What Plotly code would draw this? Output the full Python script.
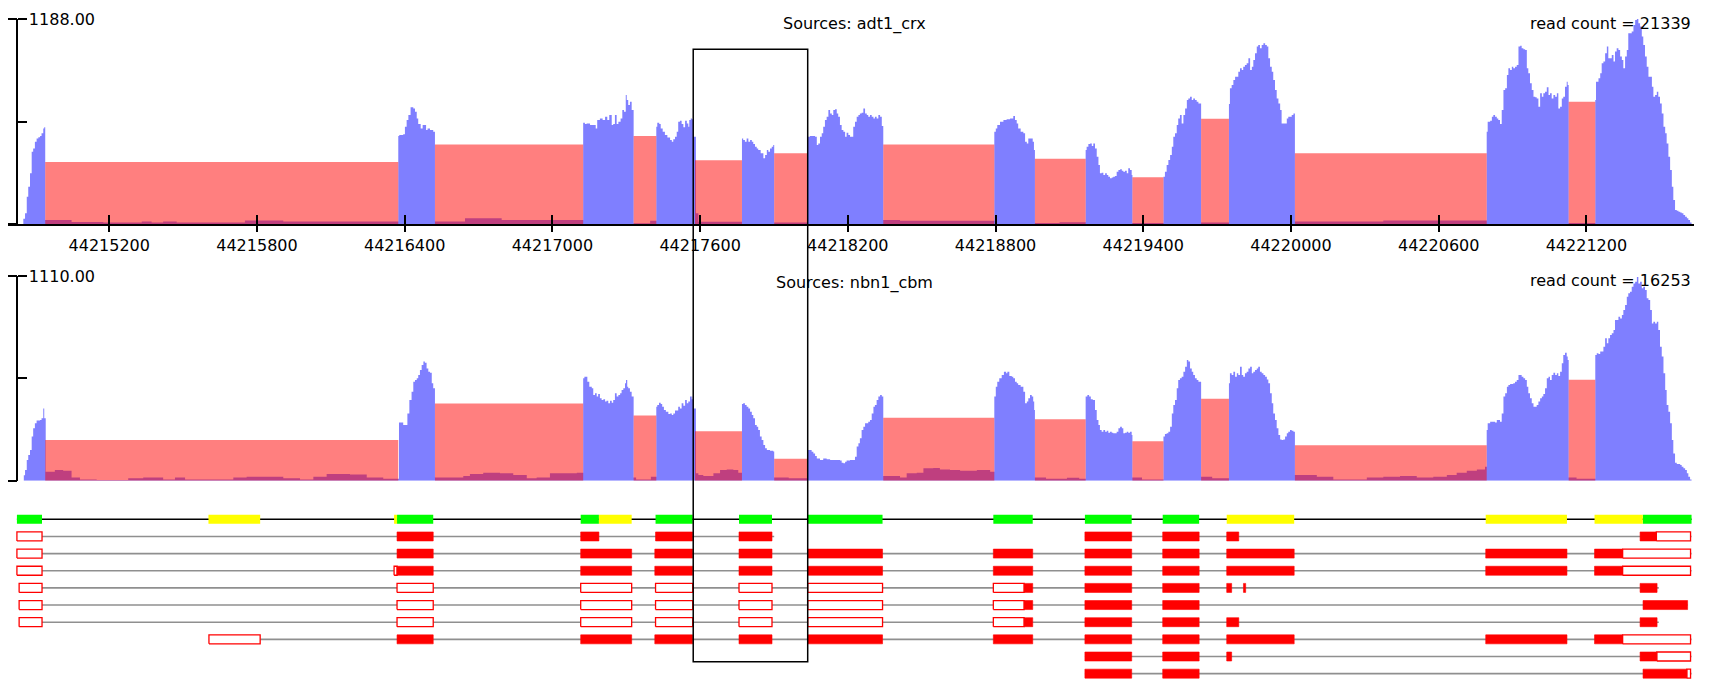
import plotly.graph_objects as go

# ---------------------------------------------------------------- axis setup
TICK_POSITIONS = [44215200, 44215800, 44216400, 44217000, 44217600, 44218200,
                  44218800, 44219400, 44220000, 44220600, 44221200]
VIEW_START, VIEW_END = 44214790, 44221637

SAMPLE_NAMES = ["adt1_crx", "nbn1_cbm"]
READ_COUNTS = [21339, 16253]
AXIS_MAX = [1188.00, 1110.00]

# ---------------------------------------------------------------- per-base read depth (position, depth)
ADT1_COVERAGE = [
    (44214851, 30), (44214858, 62), (44214865, 158), (44214871, 216), (44214878, 294), (44214885, 419),
    (44214891, 438), (44214898, 477), (44214905, 496), (44214912, 503), (44214919, 510), (44214925, 526),
    (44214932, 554), (44214936, 560),
    (44214940, 23), (44215047, 12), (44215176, 8), (44215332, 15), (44215372, 8), (44215419, 15),
    (44215474, 8), (44215751, 21), (44215907, 15), (44216083, 14),
    (44216374, 510), (44216378, 516), (44216394, 520), (44216401, 564), (44216408, 603), (44216415, 632),
    (44216424, 676), (44216435, 670), (44216442, 651), (44216449, 612), (44216455, 580), (44216465, 554),
    (44216473, 574), (44216487, 545), (44216493, 554), (44216503, 545), (44216516, 535),
    (44216523, 15), (44216645, 33), (44216794, 23),
    (44217125, 587), (44217132, 580), (44217139, 583), (44217153, 574), (44217176, 554), (44217182, 603),
    (44217193, 612), (44217204, 603), (44217214, 622), (44217223, 603), (44217231, 632), (44217241, 574),
    (44217247, 580), (44217254, 632), (44217261, 580), (44217268, 593), (44217277, 612), (44217284, 661),
    (44217291, 651), (44217298, 748), (44217302, 719), (44217308, 690), (44217315, 709), (44217322, 661),
    (44217330, 4), (44217397, 19),
    (44217422, 564), (44217426, 587), (44217434, 580), (44217440, 554), (44217448, 535), (44217457, 516),
    (44217467, 502), (44217478, 487), (44217485, 477), (44217491, 491), (44217498, 506), (44217505, 535),
    (44217511, 593), (44217518, 599), (44217525, 580), (44217532, 560), (44217539, 599), (44217546, 583),
    (44217552, 564), (44217556, 603), (44217562, 612), (44217567, 607), (44217572, 506),
    (44217583, 62), (44217593, 13),
    (44217770, 496), (44217775, 487), (44217782, 477), (44217789, 496), (44217796, 477), (44217803, 487),
    (44217810, 477), (44217816, 464), (44217823, 448), (44217830, 438), (44217836, 429), (44217846, 410),
    (44217857, 381), (44217864, 400), (44217871, 429), (44217877, 419), (44217884, 438), (44217891, 448),
    (44217897, 458),
    (44217901, 8),
    (44218037, 506), (44218046, 510), (44218067, 506), (44218074, 458), (44218080, 467), (44218087, 506),
    (44218094, 526), (44218100, 564), (44218107, 603), (44218114, 622), (44218121, 661), (44218128, 641),
    (44218135, 632), (44218141, 661), (44218148, 665), (44218155, 641), (44218161, 622), (44218168, 574),
    (44218175, 545), (44218182, 535), (44218189, 506), (44218195, 529), (44218202, 516), (44218209, 506),
    (44218222, 564), (44218229, 593), (44218236, 622), (44218243, 632), (44218249, 641), (44218256, 645),
    (44218263, 670), (44218270, 641), (44218277, 632), (44218283, 622), (44218290, 632), (44218297, 622),
    (44218304, 612), (44218310, 622), (44218317, 612), (44218324, 632), (44218331, 622), (44218338, 568),
    (44218344, 23), (44218412, 19),
    (44218795, 535), (44218801, 554), (44218807, 574), (44218818, 593), (44218832, 603), (44218845, 607),
    (44218859, 612), (44218872, 626), (44218879, 603), (44218886, 583), (44218892, 554), (44218902, 535),
    (44218913, 526), (44218920, 477), (44218927, 467), (44218933, 496), (44218951, 477), (44218956, 429),
    (44218960, 6), (44219060, 10),
    (44219166, 429), (44219170, 448), (44219177, 464), (44219184, 467), (44219191, 452), (44219197, 467),
    (44219204, 438), (44219211, 390), (44219218, 342), (44219224, 294), (44219231, 297), (44219238, 284),
    (44219245, 294), (44219252, 284), (44219258, 274), (44219265, 265), (44219272, 270), (44219278, 274),
    (44219285, 278), (44219292, 303), (44219299, 313), (44219306, 317), (44219313, 309), (44219319, 303),
    (44219326, 309), (44219333, 294), (44219339, 323), (44219346, 313), (44219353, 284),
    (44219356, 6),
    (44219482, 274), (44219488, 303), (44219495, 342), (44219502, 371), (44219509, 400), (44219516, 448),
    (44219522, 506), (44219529, 526), (44219536, 574), (44219542, 612), (44219549, 632), (44219556, 583),
    (44219563, 632), (44219570, 670), (44219577, 719), (44219583, 728), (44219590, 738), (44219597, 719),
    (44219603, 728), (44219610, 719), (44219617, 709), (44219624, 699),
    (44219635, 8),
    (44219748, 695), (44219752, 786), (44219759, 805), (44219766, 835), (44219773, 854), (44219786, 883),
    (44219793, 902), (44219800, 892), (44219806, 912), (44219813, 921), (44219820, 931), (44219827, 960),
    (44219834, 892), (44219841, 912), (44219847, 950), (44219854, 989), (44219861, 1028), (44219867, 1037),
    (44219874, 1018), (44219881, 1037), (44219888, 1047), (44219895, 1037), (44219902, 1028), (44219908, 960),
    (44219915, 912), (44219922, 883), (44219928, 835), (44219935, 777), (44219942, 728), (44219949, 699),
    (44219956, 661), (44219962, 583), (44219983, 612), (44219989, 622), (44220003, 632), (44220010, 641),
    (44220016, 14), (44220375, 20),
    (44220795, 535), (44220799, 593), (44220809, 599), (44220816, 622), (44220822, 632), (44220829, 622),
    (44220836, 612), (44220842, 603), (44220849, 580), (44220856, 661), (44220863, 777), (44220870, 786),
    (44220877, 863), (44220883, 902), (44220890, 892), (44220897, 912), (44220903, 902), (44220910, 912),
    (44220917, 921), (44220924, 1028), (44220931, 1033), (44220937, 1018), (44220944, 1012), (44220951, 1008),
    (44220958, 902), (44220964, 873), (44220971, 815), (44220978, 777), (44220985, 738), (44220992, 734),
    (44220998, 728), (44221005, 680), (44221012, 757), (44221019, 738), (44221025, 757), (44221032, 767),
    (44221039, 792), (44221046, 748), (44221052, 757), (44221059, 728), (44221066, 748), (44221073, 738),
    (44221080, 757), (44221086, 670), (44221093, 680), (44221100, 728), (44221106, 738), (44221113, 796),
    (44221120, 825), (44221124, 805),
    (44221128, 6),
    (44221236, 719), (44221239, 825), (44221249, 844), (44221256, 873), (44221262, 931), (44221269, 941),
    (44221276, 989), (44221283, 1028), (44221289, 960), (44221303, 979), (44221310, 941), (44221316, 999),
    (44221323, 1018), (44221330, 1008), (44221337, 970), (44221344, 950), (44221350, 902), (44221357, 970),
    (44221364, 1008), (44221370, 1105), (44221384, 1115), (44221391, 1153), (44221398, 1182), (44221405, 1188),
    (44221411, 1163), (44221418, 1144), (44221425, 1086), (44221431, 1037), (44221438, 970), (44221445, 912),
    (44221452, 854), (44221466, 796), (44221472, 738), (44221479, 748), (44221486, 767), (44221492, 738),
    (44221499, 699), (44221506, 641), (44221513, 564), (44221520, 526), (44221526, 467), (44221533, 390),
    (44221540, 313), (44221547, 216), (44221553, 139), (44221560, 81), (44221567, 77), (44221574, 71),
    (44221581, 66), (44221587, 62), (44221594, 52), (44221601, 42), (44221608, 33), (44221614, 23),
    (44221621, 8), (44221627, 0),
]

NBN1_COVERAGE = [
    (44214853, 30), (44214858, 58), (44214865, 112), (44214871, 140), (44214878, 167), (44214885, 239),
    (44214891, 284), (44214898, 311), (44214905, 326), (44214919, 329), (44214925, 338), (44214932, 392),
    (44214936, 338),
    (44214942, 49), (44214979, 58), (44215013, 54), (44215047, 18), (44215081, 7), (44215149, 4),
    (44215277, 13), (44215338, 18), (44215419, 7), (44215467, 18), (44215508, 7), (44215704, 18),
    (44215758, 22), (44215907, 13), (44215975, 7), (44216029, 22), (44216083, 36), (44216178, 34),
    (44216246, 18), (44216313, 11),
    (44216377, 315), (44216394, 302), (44216411, 365), (44216419, 438), (44216428, 483), (44216435, 537),
    (44216442, 546), (44216449, 555), (44216455, 573), (44216462, 600), (44216469, 627), (44216476, 646),
    (44216482, 640), (44216489, 609), (44216496, 591), (44216503, 586), (44216510, 528), (44216516, 501),
    (44216523, 18), (44216638, 25), (44216665, 36), (44216719, 43), (44216787, 40), (44216841, 31),
    (44216896, 13), (44216936, 18), (44216990, 40), (44217099, 43),
    (44217125, 555), (44217130, 564), (44217142, 537), (44217150, 510), (44217160, 501), (44217166, 465),
    (44217173, 474), (44217180, 456), (44217186, 470), (44217193, 447), (44217200, 438), (44217207, 441),
    (44217214, 429), (44217220, 434), (44217227, 420), (44217234, 434), (44217241, 423), (44217247, 438),
    (44217254, 474), (44217261, 456), (44217268, 465), (44217275, 474), (44217281, 492), (44217288, 501),
    (44217295, 528), (44217299, 546), (44217304, 510), (44217308, 501), (44217315, 483), (44217322, 456),
    (44217330, 18), (44217340, 7), (44217400, 22),
    (44217422, 401), (44217426, 410), (44217433, 423), (44217440, 416), (44217446, 401), (44217453, 383),
    (44217461, 374), (44217471, 362), (44217478, 365), (44217485, 356), (44217491, 365), (44217498, 380),
    (44217511, 401), (44217518, 392), (44217525, 420), (44217532, 407), (44217539, 438), (44217546, 420),
    (44217552, 429), (44217559, 456), (44217566, 441), (44217570, 456), (44217572, 392),
    (44217583, 40), (44217593, 31), (44217613, 25), (44217654, 40), (44217681, 58), (44217708, 61),
    (44217735, 58), (44217755, 43),
    (44217770, 416), (44217775, 420), (44217782, 410), (44217789, 401), (44217796, 392), (44217803, 374),
    (44217810, 356), (44217816, 338), (44217823, 302), (44217830, 293), (44217836, 275), (44217843, 239),
    (44217850, 221), (44217857, 194), (44217864, 176), (44217871, 167), (44217884, 163), (44217897, 158),
    (44217901, 18), (44217960, 13),
    (44218037, 166), (44218053, 157), (44218060, 148), (44218067, 134), (44218074, 121), (44218087, 112),
    (44218100, 121), (44218114, 116), (44218128, 112), (44218168, 109), (44218175, 98), (44218182, 94),
    (44218189, 103), (44218195, 109), (44218209, 112), (44218229, 130), (44218236, 185), (44218243, 203),
    (44218249, 230), (44218256, 275), (44218263, 293), (44218270, 311), (44218283, 320), (44218290, 329),
    (44218297, 365), (44218304, 401), (44218310, 410), (44218317, 438), (44218324, 456), (44218331, 465),
    (44218338, 456),
    (44218344, 25), (44218412, 18), (44218439, 40), (44218480, 43), (44218507, 67), (44218547, 69),
    (44218574, 61), (44218615, 58), (44218656, 54), (44218724, 58), (44218778, 49),
    (44218795, 456), (44218801, 510), (44218807, 537), (44218815, 555), (44218825, 573), (44218834, 591),
    (44218843, 582), (44218848, 591), (44218856, 568), (44218866, 564), (44218872, 555), (44218879, 537),
    (44218886, 528), (44218892, 519), (44218902, 510), (44218913, 483), (44218920, 420), (44218927, 429),
    (44218933, 447), (44218940, 465), (44218947, 456), (44218953, 429), (44218957, 383),
    (44218960, 18), (44219005, 11), (44219090, 16), (44219140, 11),
    (44219166, 456), (44219173, 465), (44219180, 456), (44219187, 441), (44219195, 438), (44219204, 383),
    (44219211, 329), (44219218, 302), (44219224, 275), (44219231, 266), (44219238, 275), (44219245, 266),
    (44219252, 271), (44219258, 260), (44219265, 266), (44219272, 260), (44219278, 257), (44219292, 266),
    (44219299, 284), (44219306, 293), (44219313, 284), (44219319, 257), (44219326, 260), (44219333, 266),
    (44219339, 260), (44219346, 266), (44219353, 248),
    (44219356, 18), (44219395, 7),
    (44219482, 239), (44219488, 253), (44219495, 257), (44219502, 266), (44219509, 293), (44219516, 365),
    (44219522, 410), (44219529, 438), (44219536, 501), (44219542, 546), (44219549, 555), (44219556, 564),
    (44219563, 591), (44219570, 618), (44219577, 655), (44219583, 646), (44219590, 609), (44219597, 591),
    (44219603, 573), (44219610, 555), (44219617, 546), (44219624, 537),
    (44219635, 22), (44219680, 13),
    (44219748, 528), (44219752, 582), (44219759, 573), (44219766, 591), (44219773, 564), (44219780, 582),
    (44219786, 573), (44219793, 618), (44219800, 573), (44219806, 564), (44219813, 582), (44219820, 591),
    (44219827, 609), (44219834, 618), (44219841, 582), (44219847, 591), (44219854, 600), (44219861, 609),
    (44219867, 618), (44219874, 591), (44219881, 582), (44219888, 573), (44219895, 564), (44219902, 549),
    (44219908, 528), (44219915, 474), (44219922, 420), (44219928, 365), (44219935, 329), (44219942, 284),
    (44219949, 248), (44219956, 224), (44219962, 221), (44219969, 224), (44219976, 239), (44219983, 257),
    (44219989, 266), (44219996, 275), (44220003, 271), (44220010, 266),
    (44220016, 31), (44220105, 22), (44220172, 7), (44220308, 18), (44220375, 22), (44220443, 25),
    (44220511, 18), (44220578, 22), (44220633, 31), (44220673, 43), (44220714, 54), (44220755, 61),
    (44220788, 76),
    (44220795, 275), (44220799, 311), (44220809, 320), (44220829, 315), (44220836, 329), (44220849, 320),
    (44220856, 365), (44220863, 456), (44220870, 474), (44220877, 510), (44220883, 519), (44220890, 524),
    (44220903, 528), (44220910, 537), (44220917, 546), (44220924, 573), (44220937, 564), (44220944, 555),
    (44220951, 546), (44220958, 510), (44220964, 474), (44220971, 447), (44220978, 420), (44220985, 401),
    (44220998, 410), (44221005, 429), (44221012, 447), (44221019, 456), (44221025, 470), (44221032, 501),
    (44221039, 555), (44221046, 564), (44221052, 546), (44221059, 573), (44221066, 586), (44221073, 573),
    (44221080, 582), (44221086, 568), (44221093, 591), (44221100, 637), (44221106, 682), (44221113, 694),
    (44221120, 673), (44221124, 655),
    (44221128, 18), (44221160, 11),
    (44221236, 682), (44221242, 691), (44221249, 687), (44221256, 700), (44221269, 727), (44221276, 772),
    (44221283, 745), (44221289, 772), (44221296, 790), (44221303, 799), (44221310, 817), (44221316, 872),
    (44221330, 889), (44221337, 880), (44221344, 898), (44221350, 926), (44221357, 953), (44221364, 998),
    (44221370, 1016), (44221377, 1025), (44221384, 1052), (44221391, 1070), (44221398, 1079), (44221405, 1105),
    (44221411, 1070), (44221418, 1079), (44221425, 1043), (44221431, 1052), (44221438, 1034), (44221445, 989),
    (44221452, 980), (44221459, 926), (44221466, 853), (44221472, 862), (44221479, 853), (44221486, 862),
    (44221492, 817), (44221499, 727), (44221506, 673), (44221513, 582), (44221520, 492), (44221526, 410),
    (44221533, 374), (44221540, 311), (44221547, 221), (44221553, 148), (44221560, 98), (44221567, 91),
    (44221581, 85), (44221587, 76), (44221594, 67), (44221601, 58), (44221608, 40), (44221614, 22),
    (44221621, 7), (44221627, 0),
]

# ---------------------------------------------------------------- splice junctions (intron spans, read support)
JUNCTION_START = [44214940, 44216523, 44217330, 44217579, 44217901, 44218344,
                  44218960, 44219356, 44219635, 44220016, 44221128]
JUNCTION_END = [44216374, 44217125, 44217422, 44217770, 44218037, 44218795,
                44219166, 44219482, 44219748, 44220795, 44221236]
ADT1_JUNCTIONS = [359, 460, 510, 369, 410, 460, 378, 271, 610, 410, 709]
NBN1_JUNCTIONS = [221, 418, 353, 268, 119, 342, 333, 214, 445, 192, 548]

# region of interest marked across all tracks
HIGHLIGHT_START, HIGHLIGHT_END = 44217572, 44218037

# ---------------------------------------------------------------- gene models
# consensus exons: (start, end, kind) -- kind "const" = constitutive, "alt" = alternative
CONSENSUS_SPAN = (44214825, 44221627)
CONSENSUS_EXONS = [
    (44214825, 44214927, "const"), (44215603, 44215813, "alt"), (44216357, 44216369, "alt"),
    (44216369, 44216516, "const"), (44217115, 44217189, "const"), (44217189, 44217322, "alt"),
    (44217419, 44217570, "const"), (44217758, 44217892, "const"), (44218037, 44218341, "const"),
    (44218791, 44218951, "const"), (44219163, 44219353, "const"), (44219479, 44219627, "const"),
    (44219739, 44220013, "alt"), (44220791, 44221121, "alt"), (44221233, 44221429, "alt"),
    (44221429, 44221627, "const"),
]

# transcript spans: (row, start, end)
TRANSCRIPT_SPANS = [
    (1, 44214825, 44217901), (1, 44219163, 44221627),
    (2, 44214825, 44221627), (3, 44214825, 44221627),
    (4, 44214834, 44221494), (5, 44214834, 44221611), (6, 44214834, 44221494),
    (7, 44215605, 44221627), (8, 44219163, 44221627), (9, 44219163, 44221627),
]

# transcript exons: (row, start, end, coding)
TRANSCRIPT_EXONS = [
    (1, 44214825, 44214927, False), (1, 44216369, 44216516, True), (1, 44217115, 44217189, True),
    (1, 44217419, 44217570, True), (1, 44217758, 44217892, True), (1, 44219163, 44219353, True),
    (1, 44219479, 44219627, True), (1, 44219739, 44219788, True), (1, 44221418, 44221484, True),
    (1, 44221484, 44221623, False),

    (2, 44214825, 44214927, False), (2, 44216369, 44216516, True), (2, 44217115, 44217322, True),
    (2, 44217416, 44217570, True), (2, 44217758, 44217892, True), (2, 44218037, 44218341, True),
    (2, 44218791, 44218951, True), (2, 44219163, 44219353, True), (2, 44219479, 44219627, True),
    (2, 44219739, 44220013, True), (2, 44220791, 44221121, True), (2, 44221233, 44221347, True),
    (2, 44221347, 44221623, False),

    (3, 44214825, 44214927, False), (3, 44216357, 44216369, False), (3, 44216369, 44216516, True),
    (3, 44217115, 44217322, True), (3, 44217416, 44217570, True), (3, 44217758, 44217892, True),
    (3, 44218037, 44218341, True), (3, 44218791, 44218951, True), (3, 44219163, 44219353, True),
    (3, 44219479, 44219627, True), (3, 44219739, 44220013, True), (3, 44220791, 44221121, True),
    (3, 44221233, 44221347, True), (3, 44221347, 44221623, False),

    (4, 44214834, 44214927, False), (4, 44216369, 44216516, False), (4, 44217115, 44217322, False),
    (4, 44217419, 44217570, False), (4, 44217758, 44217892, False), (4, 44218037, 44218341, False),
    (4, 44218791, 44218916, False), (4, 44218916, 44218951, True), (4, 44219163, 44219353, True),
    (4, 44219479, 44219627, True), (4, 44219739, 44219759, True), (4, 44219807, 44219816, True),
    (4, 44221418, 44221487, True),

    (5, 44214834, 44214927, False), (5, 44216369, 44216516, False), (5, 44217115, 44217322, False),
    (5, 44217419, 44217570, False), (5, 44217758, 44217892, False), (5, 44218037, 44218341, False),
    (5, 44218791, 44218916, False), (5, 44218916, 44218951, True), (5, 44219163, 44219353, True),
    (5, 44219479, 44219627, True), (5, 44221430, 44221611, True),

    (6, 44214834, 44214927, False), (6, 44216369, 44216516, False), (6, 44217115, 44217322, False),
    (6, 44217419, 44217570, False), (6, 44217758, 44217892, False), (6, 44218037, 44218341, False),
    (6, 44218791, 44218916, False), (6, 44218916, 44218951, True), (6, 44219163, 44219353, True),
    (6, 44219479, 44219627, True), (6, 44219739, 44219788, True), (6, 44221418, 44221487, True),

    (7, 44215605, 44215813, False), (7, 44216369, 44216516, True), (7, 44217115, 44217322, True),
    (7, 44217416, 44217570, True), (7, 44217758, 44217892, True), (7, 44218037, 44218341, True),
    (7, 44218791, 44218951, True), (7, 44219163, 44219353, True), (7, 44219479, 44219627, True),
    (7, 44219739, 44220013, True), (7, 44220791, 44221121, True), (7, 44221233, 44221347, True),
    (7, 44221347, 44221623, False),

    (8, 44219163, 44219353, True), (8, 44219479, 44219627, True), (8, 44219739, 44219759, True),
    (8, 44221418, 44221486, True), (8, 44221486, 44221623, False),

    (9, 44219163, 44219353, True), (9, 44219479, 44219627, True), (9, 44221430, 44221608, True),
    (9, 44221608, 44221623, False),
]

# ---------------------------------------------------------------- styling
FONT = dict(family="DejaVu Sans", size=16, color="black")
COVERAGE_FILL = "rgba(0,0,255,0.5)"
JUNCTION_FILL = "rgba(255,0,0,0.5)"
EXON_COLORS = {"const": "#00ff00", "alt": "#ffff00"}
BOX_HALF = 0.2625

W, H = 1713, 680
X_DOMAIN = [8.3 / W, 1694 / W]
Y_AXIS_POS = 17.3 / W
PANEL_DOMAINS = [[1 - 224 / H, 1 - 19 / H], [1 - 480.7 / H, 1 - 276 / H]]
GENE_DOMAIN = [0, 180 / H]
GENE_RANGE = [-9.3703, 1.1254]

fig = go.Figure()


def step_trace(points, yaxis):
    xs = [p[0] for p in points]
    ys = [p[1] for p in points]
    return go.Scatter(x=xs, y=ys, mode="lines", line=dict(width=0, shape="hv"),
                      fill="tozeroy", fillcolor=COVERAGE_FILL, xaxis="x", yaxis=yaxis,
                      hoverinfo="skip")


def rect_path(starts, ends, bottoms, tops):
    xs, ys = [], []
    for s, e, b, t in zip(starts, ends, bottoms, tops):
        xs += [s, e, e, s, s, None]
        ys += [b, b, t, t, b, None]
    return xs, ys


coverage_sets = [(ADT1_COVERAGE, ADT1_JUNCTIONS, "y"), (NBN1_COVERAGE, NBN1_JUNCTIONS, "y2")]
for cov, junc, yax in coverage_sets:
    fig.add_trace(step_trace(cov, yax))
    jx, jy = rect_path(JUNCTION_START, JUNCTION_END, [0] * len(junc), junc)
    fig.add_trace(go.Scatter(x=jx, y=jy, mode="lines", line=dict(width=0), fill="toself",
                             fillcolor=JUNCTION_FILL, xaxis="x", yaxis=yax, hoverinfo="skip"))

# consensus gene line and exons
fig.add_trace(go.Scatter(x=list(CONSENSUS_SPAN), y=[0, 0], mode="lines",
                         line=dict(color="black", width=1.5), xaxis="x3", yaxis="y3", hoverinfo="skip"))
for kind, color in EXON_COLORS.items():
    ex = [e for e in CONSENSUS_EXONS if e[2] == kind]
    bx, by = rect_path([e[0] for e in ex], [e[1] for e in ex],
                       [-BOX_HALF] * len(ex), [BOX_HALF] * len(ex))
    fig.add_trace(go.Scatter(x=bx, y=by, mode="lines", line=dict(width=0), fill="toself",
                             fillcolor=color, xaxis="x3", yaxis="y3", hoverinfo="skip"))

# transcript backbones
lx, ly = [], []
for row, s, e in TRANSCRIPT_SPANS:
    lx += [s, e, None]
    ly += [-row, -row, None]
fig.add_trace(go.Scatter(x=lx, y=ly, mode="lines", line=dict(color="#8f8f8f", width=1.6),
                         xaxis="x3", yaxis="y3", hoverinfo="skip"))

# transcript exons: coding solid, non-coding outlined
for coding in (False, True):
    ex = [e for e in TRANSCRIPT_EXONS if e[3] == coding]
    bx, by = rect_path([e[1] for e in ex], [e[2] for e in ex],
                       [-e[0] - BOX_HALF for e in ex], [-e[0] + BOX_HALF for e in ex])
    fig.add_trace(go.Scatter(x=bx, y=by, mode="lines",
                             line=dict(color="#ff0000", width=1.3 if not coding else 0.6),
                             fill="toself", fillcolor="#ff0000" if coding else "white",
                             xaxis="x3", yaxis="y3", hoverinfo="skip"))

tick_text = [str(t) for t in TICK_POSITIONS]
# major ticks hang below the baseline, minor ticks at the same places rise above it
x_ruler = dict(domain=X_DOMAIN, range=[VIEW_START, VIEW_END], showgrid=False, zeroline=False,
               tickmode="array", tickvals=TICK_POSITIONS, ticktext=tick_text, tickfont=FONT,
               ticks="outside", ticklen=6, tickwidth=1.5, tickcolor="black",
               showline=True, linecolor="black", linewidth=1.5,
               minor=dict(tickmode="array", tickvals=TICK_POSITIONS, ticks="inside", ticklen=9,
                          tickwidth=1.5, tickcolor="black", showgrid=False))

layout = dict(
    width=W, height=H, margin=dict(l=0, r=0, t=0, b=0, autoexpand=False),
    paper_bgcolor="white", plot_bgcolor="white", showlegend=False, font=FONT,
    xaxis=dict(**x_ruler, anchor="y", automargin=False),
    xaxis2=dict(**x_ruler, anchor="y2", matches="x", automargin=False),
    xaxis3=dict(domain=X_DOMAIN, range=[VIEW_START, VIEW_END], anchor="y3", visible=False),
    yaxis3=dict(domain=GENE_DOMAIN, range=GENE_RANGE, anchor="x3", visible=False),
)

for i, (name, top) in enumerate(zip(["yaxis", "yaxis2"], AXIS_MAX)):
    ticks = [0, top / 2, top]
    layout[name] = dict(domain=PANEL_DOMAINS[i], range=[0, top], anchor="free", position=Y_AXIS_POS,
                        showline=True, linecolor="black", linewidth=1.5,
                        tickmode="array", tickvals=ticks, ticktext=["", "", f"{top:.2f}"],
                        ticks="outside", ticklen=9, tickwidth=1.5, tickcolor="black",
                        ticklabelposition="inside", ticklabeloverflow="allow", ticklabelstandoff=11,
                        tickfont=FONT, automargin=False,
                        minor=dict(tickmode="array", tickvals=ticks[1:], ticks="inside", ticklen=9,
                                   tickwidth=1.5, tickcolor="black", showgrid=False),
                        showgrid=False, zeroline=False)

fig.update_layout(**layout)

# sample titles and read totals
title_y = [1 - 24 / H, 1 - 282.7 / H]
count_y = [1 - 23.3 / H, 1 - 280.7 / H]
for name, total, ty, cy in zip(SAMPLE_NAMES, READ_COUNTS, title_y, count_y):
    fig.add_annotation(text=f"Sources: {name}", x=854 / W, y=ty, xref="paper", yref="paper",
                       xanchor="center", yanchor="middle", showarrow=False, font=FONT)
    fig.add_annotation(text=f"read count = {total}", x=1693 / W, y=cy, xref="paper", yref="paper",
                       xanchor="right", yanchor="middle", showarrow=False, font=FONT)

# highlighted region box spanning every track
fig.add_shape(type="rect", xref="x", yref="paper", x0=HIGHLIGHT_START, x1=HIGHLIGHT_END,
              y0=1 - 661.7 / H, y1=1 - 49.3 / H, line=dict(color="black", width=1.5),
              fillcolor="rgba(0,0,0,0)", layer="above")

fig.write_html("out.html")
